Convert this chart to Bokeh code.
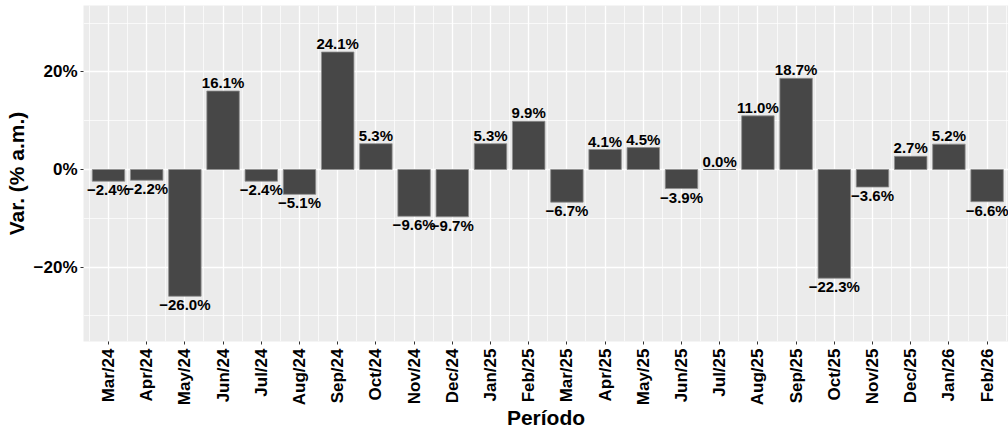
import math
from bokeh.plotting import figure
from bokeh.models import ColumnDataSource, FixedTicker, Range1d
from bokeh.core.properties import value
from bokeh.embed import file_html
from bokeh.resources import INLINE

categories = ["Mar/24", "Apr/24", "May/24", "Jun/24", "Jul/24", "Aug/24", "Sep/24", "Oct/24",
              "Nov/24", "Dec/24", "Jan/25", "Feb/25", "Mar/25", "Apr/25", "May/25", "Jun/25",
              "Jul/25", "Aug/25", "Sep/25", "Oct/25", "Nov/25", "Dec/25", "Jan/26", "Feb/26"]
values = [-2.4, -2.2, -26.0, 16.1, -2.4, -5.1, 24.1, 5.3,
          -9.6, -9.7, 5.3, 9.9, -6.7, 4.1, 4.5, -3.9,
          0.0, 11.0, 18.7, -22.3, -3.6, 2.7, 5.2, -6.6]
y_ticks = [-20, 0, 20]
y_tick_labels = ["\u221220%", "0%", "20%"]
y_minor_ticks = [-30, -10, 10, 30]

FONT = "Liberation Sans"
BAR_W = 0.85

x = list(range(len(categories)))
labels = [("\u2212" if v < 0 else "") + f"{abs(v):.1f}%" for v in values]

src = ColumnDataSource(dict(x=x, v=values))
pos_src = ColumnDataSource(dict(
    x=[i for i, v in zip(x, values) if v >= 0],
    v=[v for v in values if v >= 0],
    t=[l for l, v in zip(labels, values) if v >= 0]))
neg_src = ColumnDataSource(dict(
    x=[i for i, v in zip(x, values) if v < 0],
    v=[v for v in values if v < 0],
    t=[l for l, v in zip(labels, values) if v < 0]))
zero_src = ColumnDataSource(dict(
    x0=[i - BAR_W / 2 for i, v in zip(x, values) if v == 0],
    x1=[i + BAR_W / 2 for i, v in zip(x, values) if v == 0],
    v=[v for v in values if v == 0]))

p = figure(width=1008, height=434, output_backend="svg", toolbar_location=None,
           x_range=Range1d(-0.654, 23.56), y_range=Range1d(-35.28, 33.64),
           min_border_left=83, min_border_right=0, min_border_top=5, min_border_bottom=93)

p.background_fill_color = "#EBEBEB"
p.border_fill_color = "white"
p.outline_line_color = None

p.vbar(x="x", top="v", bottom=0, width=BAR_W, source=src,
       fill_color="#474747", line_color="#8f8f8f", line_width=0.8)
p.segment(x0="x0", x1="x1", y0="v", y1="v", source=zero_src,
          line_color="#5a5a5a", line_width=1.2)

p.text(x="x", y="v", text="t", source=pos_src, text_align="center",
       text_baseline="bottom", y_offset=0, text_font=value(FONT),
       text_font_style="bold", text_font_size="15px", text_color="black")
p.text(x="x", y="v", text="t", source=neg_src, text_align="center",
       text_baseline="top", y_offset=0, text_font=value(FONT),
       text_font_style="bold", text_font_size="15px", text_color="black")

# x axis
p.xaxis.ticker = FixedTicker(ticks=x, minor_ticks=[i + 0.5 for i in range(-1, len(x))])
p.xaxis.major_label_overrides = {i: c for i, c in zip(x, categories)}
p.xaxis.major_label_orientation = math.pi / 2
p.xaxis.axis_label = "Período"

# y axis
p.yaxis.ticker = FixedTicker(ticks=y_ticks, minor_ticks=y_minor_ticks)
p.yaxis.major_label_overrides = {t: l for t, l in zip(y_ticks, y_tick_labels)}
p.yaxis.axis_label = "Var. (% a.m.)"

for ax in (p.xaxis, p.yaxis):
    ax.axis_line_color = None
    ax.major_tick_line_color = "#333333"
    ax.major_tick_line_width = 1
    ax.major_tick_out = 3
    ax.major_tick_in = 0
    ax.minor_tick_line_color = None
    ax.major_label_text_font = FONT
    ax.major_label_text_font_style = "bold"
    ax.major_label_text_font_size = "17px"
    ax.major_label_text_color = "black"
    ax.axis_label_text_font = FONT
    ax.axis_label_text_font_style = "bold"
    ax.axis_label_text_font_size = "21px"
    ax.axis_label_text_color = "black"

p.xaxis.major_label_standoff = 3
p.xaxis.axis_label_standoff = -2
p.yaxis.major_label_standoff = 2
p.yaxis.axis_label_standoff = 3

for g in (p.xgrid, p.ygrid):
    g.grid_line_color = "white"
    g.grid_line_width = 1.3
    g.minor_grid_line_color = "white"
    g.minor_grid_line_width = 0.7

open("out.html", "w").write(file_html(p, INLINE))
